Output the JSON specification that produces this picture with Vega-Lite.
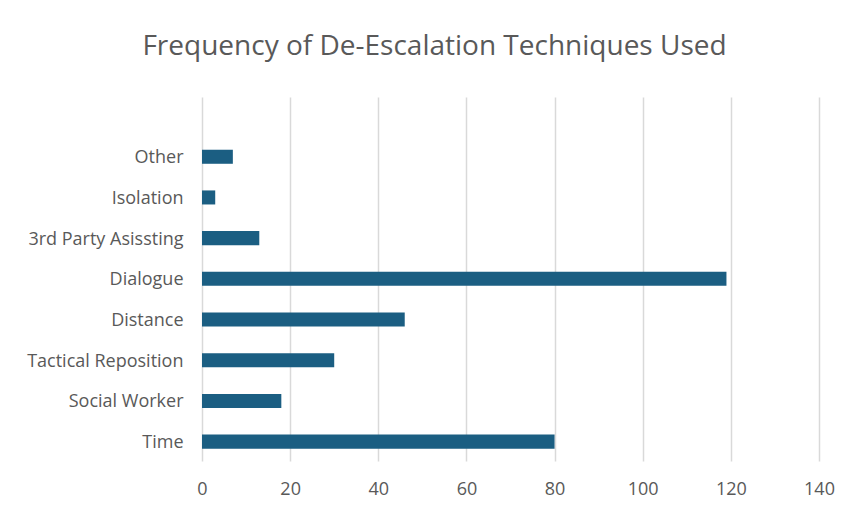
{
  "$schema": "https://vega.github.io/schema/vega-lite/v6.json",
  "autosize": {"type": "none"},
  "width": 617,
  "height": 364,
  "padding": {"left": 202, "top": 97, "right": 31, "bottom": 46},
  "background": "white",
  "title": {
    "text": "Frequency of De-Escalation Techniques Used",
    "anchor": "middle",
    "dx": -76,
    "offset": 36,
    "font": "Open Sans",
    "fontSize": 28,
    "fontWeight": "normal",
    "color": "#595959"
  },
  "data": {
    "values": [
      {"technique": "Time", "count": 80},
      {"technique": "Social Worker", "count": 18},
      {"technique": "Tactical Reposition", "count": 30},
      {"technique": "Distance", "count": 46},
      {"technique": "Dialogue", "count": 119},
      {"technique": "3rd Party Asissting", "count": 13},
      {"technique": "Isolation", "count": 3},
      {"technique": "Other", "count": 7}
    ]
  },
  "mark": {"type": "bar", "color": "#1b5e82"},
  "encoding": {
    "y": {
      "field": "technique",
      "type": "nominal",
      "sort": ["Other", "Isolation", "3rd Party Asissting", "Dialogue", "Distance", "Tactical Reposition", "Social Worker", "Time"],
      "scale": {"paddingInner": 0.655, "paddingOuter": 0.8, "align": 0.81},
      "axis": {
        "title": null,
        "domain": false,
        "ticks": false,
        "grid": false,
        "labelPadding": 19,
        "labelOffset": 1.5,
        "labelFont": "Open Sans",
        "labelFontSize": 18,
        "labelColor": "#595959"
      }
    },
    "x": {
      "field": "count",
      "type": "quantitative",
      "scale": {"domain": [0, 140], "nice": false},
      "axis": {
        "title": null,
        "values": [0, 20, 40, 60, 80, 100, 120, 140],
        "domain": false,
        "ticks": false,
        "grid": true,
        "labelFlush": false,
        "gridColor": "#d9d9d9",
        "gridWidth": 1.5,
        "labelPadding": 19,
        "labelFont": "Open Sans",
        "labelFontSize": 18,
        "labelColor": "#595959"
      }
    }
  },
  "config": {"view": {"stroke": null}}
}
